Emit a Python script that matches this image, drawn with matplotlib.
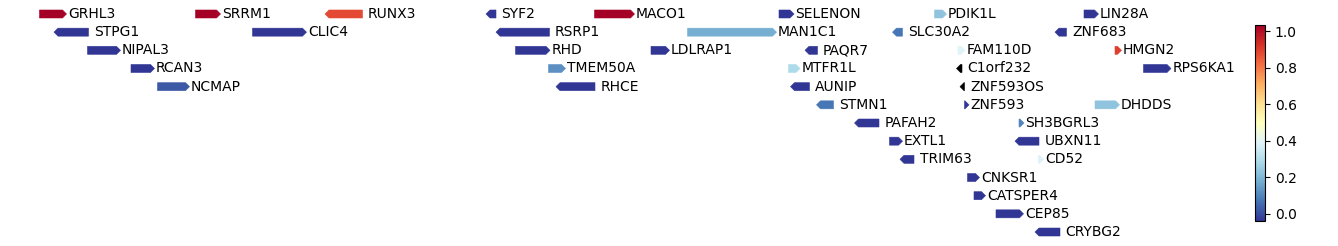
import numpy as np
import matplotlib
matplotlib.use("Agg")
import matplotlib.pyplot as plt
from matplotlib.patches import Polygon
from matplotlib.colors import Normalize
from matplotlib.cm import ScalarMappable

# gene table (coordinates in kb, strand +1 / -1, row on the track, score; nan = no score)
genes = ["GRHL3", "SRRM1", "RUNX3", "SYF2", "MACO1", "SELENON", "PDIK1L", "LIN28A",
         "STPG1", "CLIC4", "RSRP1", "MAN1C1", "SLC30A2", "ZNF683",
         "NIPAL3", "RHD", "LDLRAP1", "PAQR7", "FAM110D", "HMGN2",
         "RCAN3", "TMEM50A", "MTFR1L", "C1orf232", "RPS6KA1",
         "NCMAP", "RHCE", "AUNIP", "ZNF593OS",
         "STMN1", "ZNF593", "DHDDS",
         "PAFAH2", "SH3BGRL3",
         "EXTL1", "UBXN11",
         "TRIM63", "CD52",
         "CNKSR1", "CATSPER4", "CEP85", "CRYBG2"]
starts = [24301, 24613, 24880, 25202, 25411, 25780, 26091, 26390,
          24338, 24727, 25222, 25597, 26015, 26340,
          24397, 25253, 25524, 25840, 26138, 26452,
          24484, 25319, 25799, 26143, 26509,
          24537, 25342, 25811, 26150,
          25863, 26151, 26412,
          25939, 26260,
          26001, 26260,
          26030, 26299,
          26157, 26170, 26214, 26300]
ends = [24347, 24655, 24947, 25214, 25483, 25802, 26107, 26411,
        24399, 24827, 25321, 25767, 26027, 26355,
        24455, 25314, 25553, 25857, 26144, 26457,
        24523, 25345, 25814, 26146, 26556,
        24593, 25412, 25841, 26151,
        25889, 26152, 26453,
        25980, 26262,
        26019, 26300,
        26050, 26301,
        26173, 26185, 26261, 26342]
strands = [1, 1, -1, -1, 1, 1, 1, 1,
           -1, 1, -1, 1, -1, -1,
           1, 1, 1, -1, 1, 1,
           1, 1, 1, -1, 1,
           1, -1, -1, -1,
           -1, 1, 1,
           -1, 1,
           1, -1,
           -1, 1,
           1, 1, 1, -1]
rows = [0, 0, 0, 0, 0, 0, 0, 0,
        1, 1, 1, 1, 1, 1,
        2, 2, 2, 2, 2, 2,
        3, 3, 3, 3, 3,
        4, 4, 4, 4,
        5, 5, 5,
        6, 6,
        7, 7,
        8, 8,
        9, 10, 11, 12]
scores = [1.035, 1.035, 0.88, -0.04, 1.035, -0.04, 0.23, -0.04,
          -0.04, -0.04, -0.04, 0.18, 0.07, -0.04,
          -0.04, -0.04, -0.04, -0.04, 0.39, 0.9,
          -0.04, 0.12, 0.29, np.nan, -0.04,
          0.02, -0.04, -0.04, np.nan,
          0.07, -0.04, 0.23,
          -0.04, 0.10,
          -0.04, -0.04,
          -0.04, 0.38,
          -0.04, -0.04, -0.04, -0.04]

W, H = 1338, 246
fig = plt.figure(figsize=(W / 100, H / 100), dpi=100)
ax = fig.add_axes([0, 0, 1240 / W, 1])
ax.set_xlim(24222, 26702)
ax.set_ylim(12.77, -0.77)
ax.axis("off")

cmap = plt.get_cmap("RdYlBu_r")
norm = Normalize(vmin=np.nanmin(scores), vmax=np.nanmax(scores))

head = 8      # kb
height = 0.44  # fraction of a row
for name, s, e, st, r, v in zip(genes, starts, ends, strands, rows, scores):
    c = "black" if np.isnan(v) else cmap(norm(v))
    h = height / 2
    if st > 0:
        pts = [(s, r - h), (e, r - h), (e + head, r), (e, r + h), (s, r + h)]
    else:
        pts = [(e, r - h), (s, r - h), (s - head, r), (s, r + h), (e, r + h)]
    ax.add_patch(Polygon(pts, closed=True, fc=c, ec=c, lw=0.4))
    ax.text(e + 11, r, name, fontsize=10, va="center", ha="left")

cax = fig.add_axes([1255 / W, 25 / H, 10 / W, 196 / H])
sm = ScalarMappable(norm=norm, cmap=cmap)
cb = fig.colorbar(sm, cax=cax, ticks=[0, 0.2, 0.4, 0.6, 0.8, 1.0])
cb.ax.tick_params(labelsize=10)
cb.outline.set_linewidth(0.8)

fig.savefig("out.png", dpi=100)
